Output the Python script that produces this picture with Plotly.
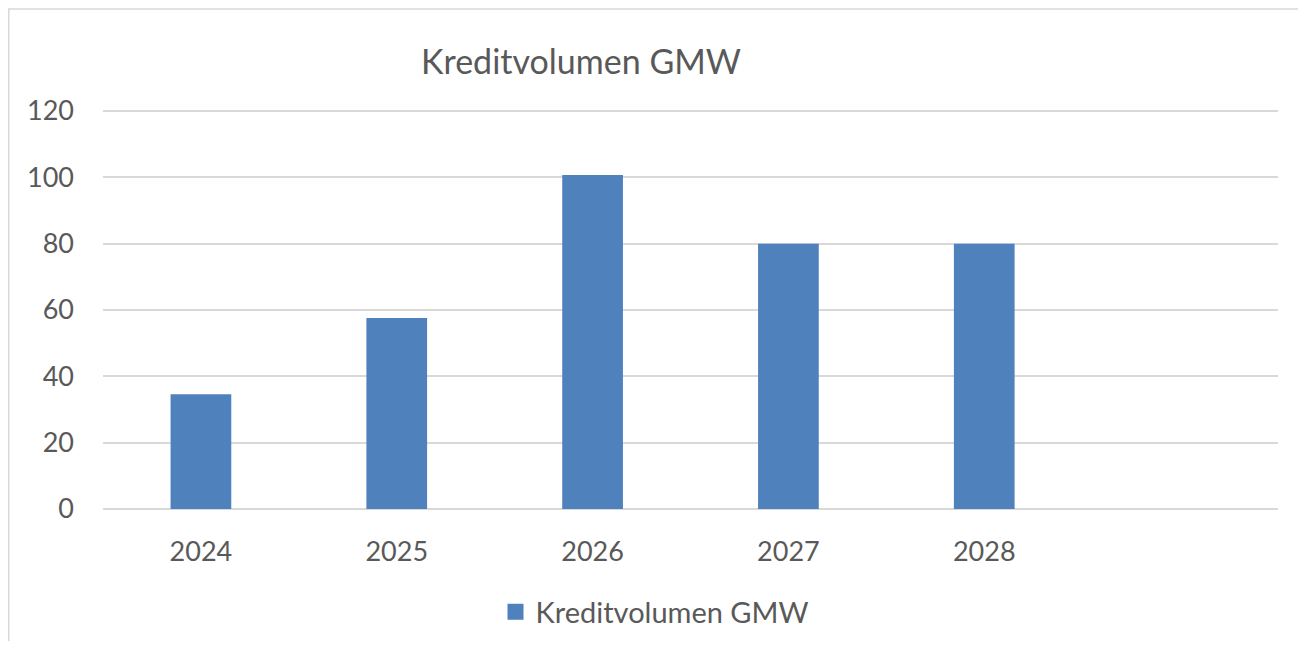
import plotly.graph_objects as go

categories = ["2024", "2025", "2026", "2027", "2028"]
values = [34.6, 57.6, 100.7, 80, 80]
series_name = "Kreditvolumen GMW"
title_text = "Kreditvolumen GMW"
y_ticks = [0, 20, 40, 60, 80, 100, 120]

FONT = "Lato, 'Open Sans', sans-serif"
TXT = "#595959"
GRID = "#d9d9d9"
BAR = "#4f81bd"

W, H = 1290, 633
L, R, T, B = 95, 20, 100, 132
PW, PH = W - L - R, H - T - B

fig = go.Figure()
fig.add_trace(go.Bar(
    x=categories, y=values, name=series_name,
    marker=dict(color=BAR, line=dict(width=0)),
    width=0.31, showlegend=False,
))
# legend entry with larger square swatch
fig.add_trace(go.Scatter(
    x=[None], y=[None], mode="markers", name=series_name,
    marker=dict(symbol="square", size=18, color=BAR), showlegend=True,
))

fig.update_layout(
    width=W, height=H,
    margin=dict(l=L, r=R, t=T, b=B, autoexpand=False),
    paper_bgcolor="white", plot_bgcolor="white",
    font=dict(family=FONT, color=TXT, size=27),
    title=dict(text=title_text, x=573 / W, xanchor="center", y=1 - 54 / H,
               yanchor="middle", font=dict(size=34, color=TXT, family=FONT)),
    showlegend=True,
    legend=dict(orientation="h", xref="container", x=647 / W, xanchor="center",
                yref="container", y=(H - 604) / H, yanchor="middle",
                font=dict(size=29, color=TXT), itemsizing="trace"),
    xaxis=dict(type="category", range=[-0.5, 5.5], showgrid=False, showline=False,
               zeroline=False, ticks="", tickfont=dict(size=27, color=TXT),
               ticklabelstandoff=24, automargin=False),
    yaxis=dict(range=[0, 120.9], tickvals=y_ticks, showgrid=True, gridcolor=GRID,
               gridwidth=1.5, zeroline=True, zerolinecolor=GRID, zerolinewidth=1.5,
               showline=False, ticks="", tickfont=dict(size=27, color=TXT),
               ticklabelstandoff=28, automargin=False),
    shapes=[dict(type="rect", xref="paper", yref="paper",
                 x0=(0.75 - L) / PW, x1=(W + 20 - L) / PW,
                 y0=-(H + 20 - (T + PH)) / PH, y1=(T + PH - 1) / PH,
                 line=dict(color=GRID, width=1.5), fillcolor="rgba(0,0,0,0)",
                 layer="below")],
)

fig.write_html("out.html")
